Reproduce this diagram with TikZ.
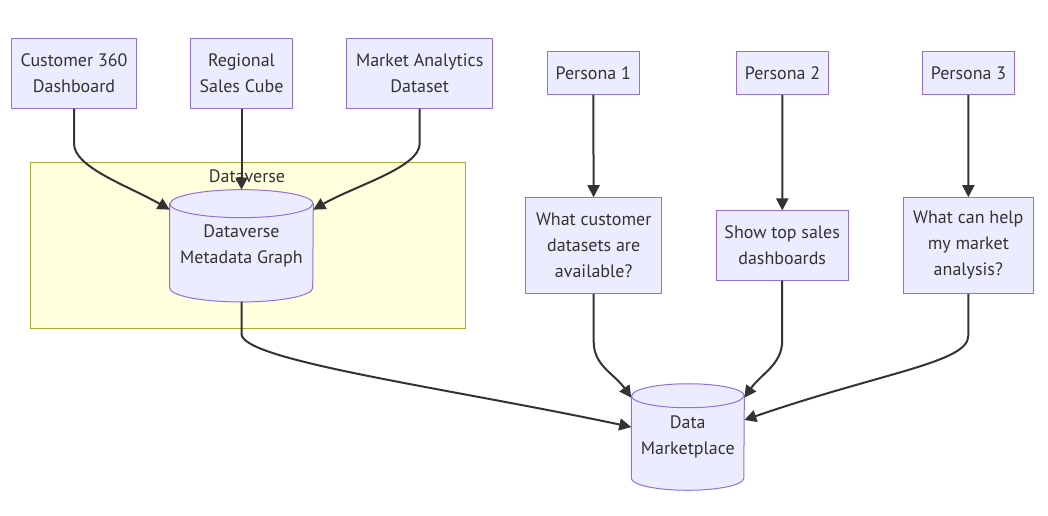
\documentclass[tikz,border=0pt]{standalone}
\usepackage{fontspec}
\setmainfont{PT Sans}
\usetikzlibrary{arrows.meta}
\pgfdeclarelayer{background}
\pgfsetlayers{background,main}
\definecolor{boxfill}{HTML}{ECECFF}
\definecolor{boxline}{HTML}{9370DB}
\definecolor{groupfill}{HTML}{FFFFDE}
\definecolor{groupline}{HTML}{AAAA33}
\definecolor{ink}{HTML}{333333}
% cylinder behind a db node: node, x radius, y radius (px)
\newcommand{\dbcyl}[3]{%
  \begin{pgfonlayer}{background}
    \draw[dbline] ([yshift=-#3*0.75pt]#1.north west) -- ([yshift=#3*0.75pt]#1.south west)
      arc[start angle=180, end angle=360, x radius=#2*0.75pt, y radius=#3*0.75pt]
      -- ([yshift=-#3*0.75pt]#1.north east)
      arc[start angle=0, end angle=180, x radius=#2*0.75pt, y radius=#3*0.75pt] -- cycle;
    \draw[dbline, fill=none] ([yshift=-#3*0.75pt]#1.north west)
      arc[start angle=180, end angle=360, x radius=#2*0.75pt, y radius=#3*0.75pt];
  \end{pgfonlayer}}
\begin{document}
\begin{tikzpicture}[x=0.75pt,y=0.75pt]
    \tikzstyle{box} = [rectangle, draw=boxline, fill=boxfill, line width=0.75pt, text=ink, align=center, inner sep=0pt, font=\fontsize{13.5}{19.5}\selectfont]
    \tikzstyle{dbnode} = [rectangle, text=ink, align=center, inner sep=0pt, font=\fontsize{13.5}{19.5}\selectfont]
    \tikzstyle{dbline} = [draw=boxline, fill=boxfill, line width=0.75pt]
    \tikzstyle{arrow} = [draw=ink, line width=1.5pt, -{Triangle[length=9pt,width=9pt]}]

    \useasboundingbox (0,0) rectangle (1048,-515);

    % Dataverse group
    \begin{pgfonlayer}{background}
    \draw[draw=groupline, fill=groupfill, line width=0.75pt] (30,-162.7) rectangle (465,-328);
    \end{pgfonlayer}
    \node (dvlabel) [text=ink, font=\fontsize{13.5}{15}\selectfont] at (247,-176) {Dataverse};

    \node (c360) [box, minimum width=93.5pt, minimum height=52.3pt] at (74,-73.2) {Customer 360\\Dashboard};
    \node (cube) [box, minimum width=76.2pt, minimum height=52.3pt] at (241.5,-73.2) {Regional\\Sales Cube};
    \node (mad) [box, minimum width=109.5pt, minimum height=52.3pt] at (419.7,-73.2) {Market Analytics\\Dataset};

    \node (p1) [box, minimum width=69pt, minimum height=32pt] at (593.3,-73) {Persona 1};
    \node (p2) [box, minimum width=69pt, minimum height=32pt] at (782.5,-73) {Persona 2};
    \node (p3) [box, minimum width=69pt, minimum height=32pt] at (968.5,-73) {Persona 3};

    \node (q1) [box, minimum width=102pt, minimum height=71.7pt] at (593.7,-245.5) {What customer\\datasets are\\available?};
    \node (q2) [box, minimum width=99.2pt, minimum height=51.8pt] at (782.2,-245.5) {Show top sales\\dashboards};
    \node (q3) [box, minimum width=97.5pt, minimum height=71.7pt] at (968.3,-245.5) {What can help\\my market\\analysis?};

    \node (meta) [dbnode, minimum width=107.3pt, minimum height=83.8pt] at (241.5,-245.8) {Dataverse\\Metadata Graph};
    \dbcyl{meta}{71.5}{14}
    \node (dm) [dbnode, minimum width=84.4pt, minimum height=79.5pt] at (687.8,-437) {Data\\Marketplace};
    \dbcyl{dm}{56.25}{12}

    \draw [arrow] (c360.south) -- ++(0,-35) to[out=-90,in=150,out distance=18pt,in distance=36pt] ([yshift=-15pt]meta.north west);
    \draw [arrow] (cube.south) -- (meta.north);
    \draw [arrow] (mad.south) -- ++(0,-35) to[out=-90,in=30,out distance=18pt,in distance=36pt] ([yshift=-15pt]meta.north east);

    \draw [arrow] (p1) -- (q1);
    \draw [arrow] (p2) -- (q2);
    \draw [arrow] (p3) -- (q3);

    \draw [arrow] (meta.south) -- ++(0,-32) to[out=-90,in=168,out distance=20pt,in distance=140pt] ([yshift=7.5pt]dm.west);
    \draw [arrow] (q1.south) -- ++(0,-48) to[out=-90,in=125,out distance=18pt,in distance=22pt] ([yshift=-10.5pt]dm.north west);
    \draw [arrow] (q2.south) -- ++(0,-60) to[out=-90,in=55,out distance=18pt,in distance=22pt] ([yshift=-10.5pt]dm.north east);
    \draw [arrow] (q3.south) -- ++(0,-42) to[out=-90,in=19,out distance=20pt,in distance=110pt] ([yshift=12.75pt]dm.east);
\end{tikzpicture}
\end{document}
